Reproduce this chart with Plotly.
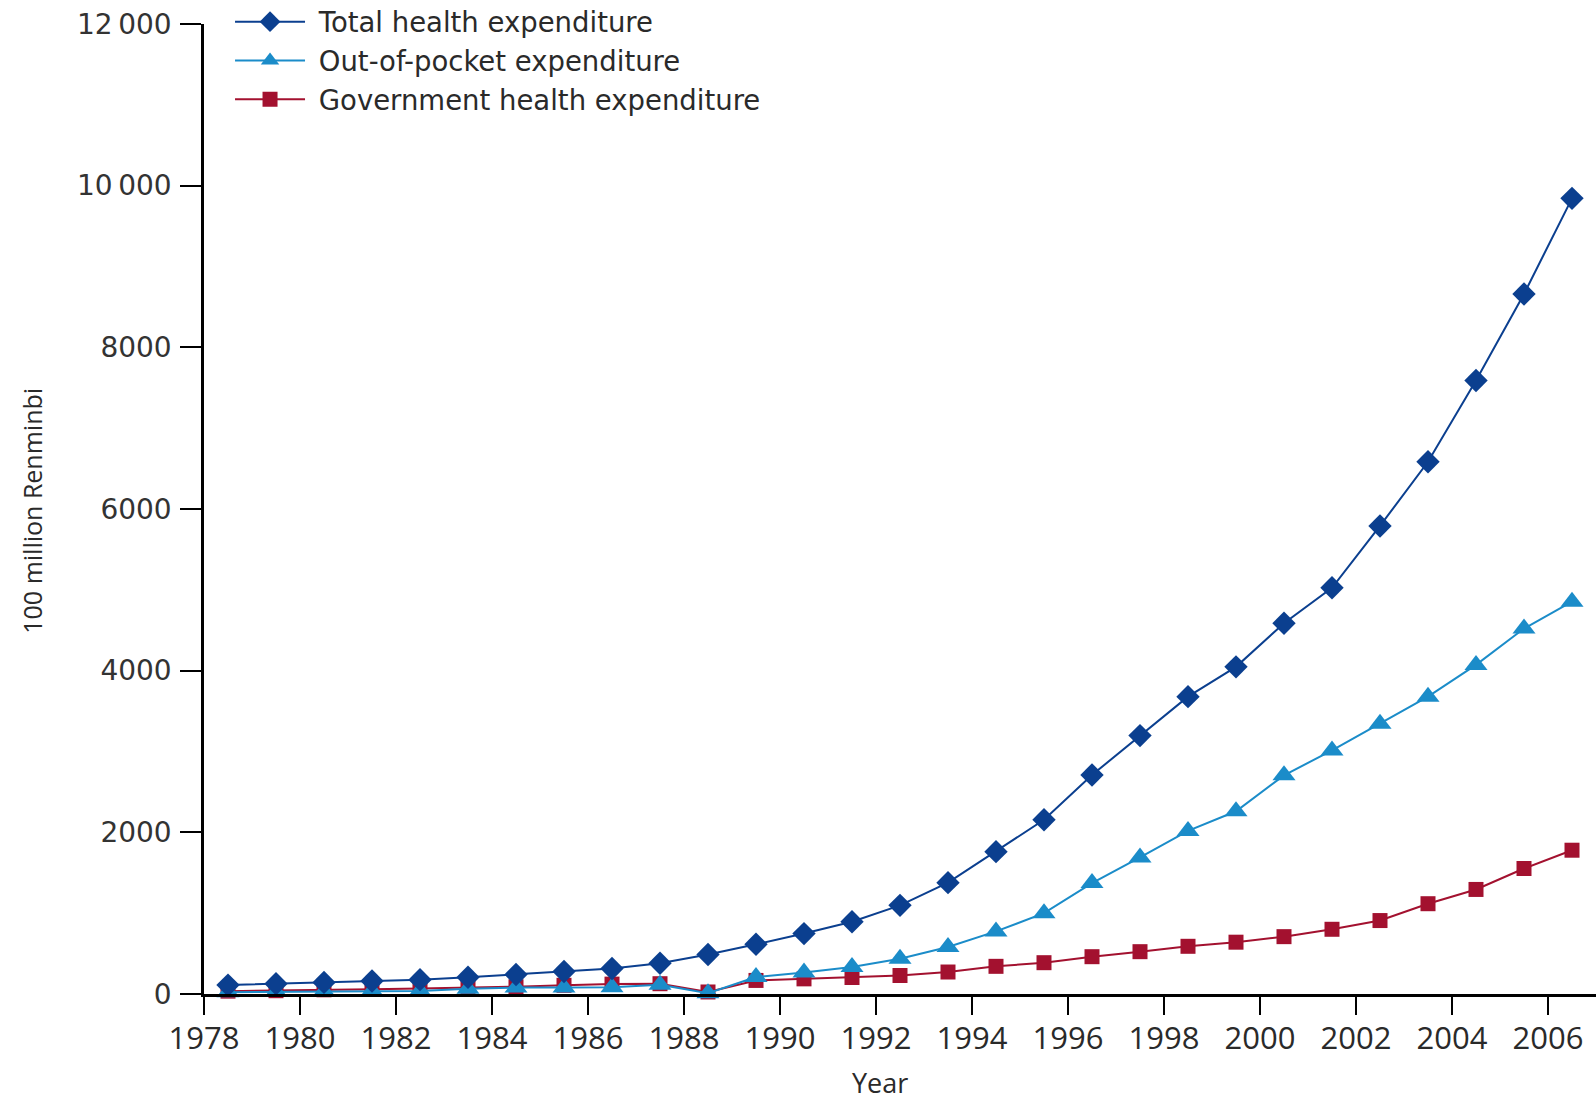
import plotly.graph_objects as go

# Data (100 million Renminbi), one value per year, plotted at mid-year
years = list(range(1978, 2007))
total_health = [110.21, 126.19, 143.23, 160.12, 177.53, 207.42, 242.07, 279.00, 315.90, 379.58,
                488.04, 615.50, 747.39, 893.49, 1096.86, 1377.78, 1761.24, 2155.13, 2709.42, 3196.71,
                3678.72, 4047.50, 4586.63, 5025.93, 5790.03, 6584.10, 7590.29, 8659.91, 9843.34]
out_of_pocket = [22.52, 25.64, 30.35, 37.99, 38.43, 65.25, 79.00, 79.39, 83.32, 115.05,
                 10.0, 209.83, 267.01, 335.03, 436.70, 580.97, 774.05, 999.98, 1372.15, 1689.09,
                 2017.63, 2260.55, 2705.17, 3013.89, 3342.14, 3678.66, 4071.35, 4520.98, 4853.56]
government = [35.44, 40.64, 51.91, 59.67, 68.99, 77.63, 89.46, 107.65, 122.23, 127.28,
              25.0, 167.83, 187.28, 204.05, 228.61, 272.06, 342.28, 387.34, 461.61, 523.56,
              590.06, 640.96, 709.52, 800.61, 908.51, 1116.94, 1293.58, 1552.53, 1778.86]

y_tickvals = [0, 2000, 4000, 6000, 8000, 10000, 12000]
y_ticktext = ["0", "2000", "4000", "6000", "8000", "10\u2009000", "12\u2009000"]

x_pos = [y + 0.5 for y in years]

C_TOTAL = "#0B3F8F"
C_OOP = "#1B8CC9"
C_GOV = "#A3112F"
TXT = "#2a2a2a"

fig = go.Figure()
fig.add_trace(go.Scatter(
    x=x_pos, y=government, name="\u00a0Government health expenditure", mode="lines+markers",
    line=dict(color=C_GOV, width=2), marker=dict(symbol="square", size=15, color=C_GOV),
    legendrank=3, cliponaxis=False))
fig.add_trace(go.Scatter(
    x=x_pos, y=out_of_pocket, name="\u00a0Out-of-pocket expenditure", mode="lines+markers",
    line=dict(color=C_OOP, width=2), marker=dict(symbol="triangle-up", size=20, color=C_OOP),
    legendrank=2, cliponaxis=False))
fig.add_trace(go.Scatter(
    x=x_pos, y=total_health, name="\u00a0Total health expenditure", mode="lines+markers",
    line=dict(color=C_TOTAL, width=2), marker=dict(symbol="diamond", size=18, color=C_TOTAL),
    legendrank=1, cliponaxis=False))

fig.update_layout(
    width=1596, height=1101,
    margin=dict(l=204, r=0, t=24, b=107, pad=0, autoexpand=False),
    paper_bgcolor="white", plot_bgcolor="white",
    showlegend=True,
    legend=dict(
        x=0.0187, xanchor="left", y=1.0275, yanchor="top",
        font=dict(family="DejaVu Sans", size=27.5, color=TXT),
        itemwidth=70, bgcolor="rgba(0,0,0,0)", borderwidth=0,
        tracegroupgap=0,
    ),
    xaxis=dict(
        range=[1978, 2007], tick0=1978, dtick=2, tickmode="linear",
        showgrid=False, zeroline=False,
        showline=True, linecolor="black", linewidth=2.5,
        ticks="outside", ticklen=18, tickwidth=2, tickcolor="black",
        tickfont=dict(family="Open Sans", size=31, color=TXT),
        ticklabelstandoff=-3,
    ),
    yaxis=dict(
        range=[0, 12000], tickmode="array", tickvals=y_tickvals, ticktext=y_ticktext,
        showgrid=False, zeroline=False,
        showline=True, linecolor="black", linewidth=2.5,
        ticks="outside", ticklen=21, tickwidth=2, tickcolor="black",
        tickfont=dict(family="DejaVu Sans", size=28, color="#333333"),
        ticklabelstandoff=3,
    ),
    annotations=[
        dict(text="Year", xref="paper", yref="paper", x=0.4856, y=-0.0912,
             xanchor="center", yanchor="middle", showarrow=False,
             font=dict(family="Open Sans", size=27, color=TXT)),
        dict(text="100 million Renminbi", xref="paper", yref="paper", x=-0.1235, y=0.4983,
             xanchor="center", yanchor="middle", showarrow=False, textangle=-90,
             font=dict(family="Open Sans", size=25, color=TXT)),
    ],
)

fig.write_html("out.html", config={"displayModeBar": False},
               post_script="document.body.style.margin='0';")
